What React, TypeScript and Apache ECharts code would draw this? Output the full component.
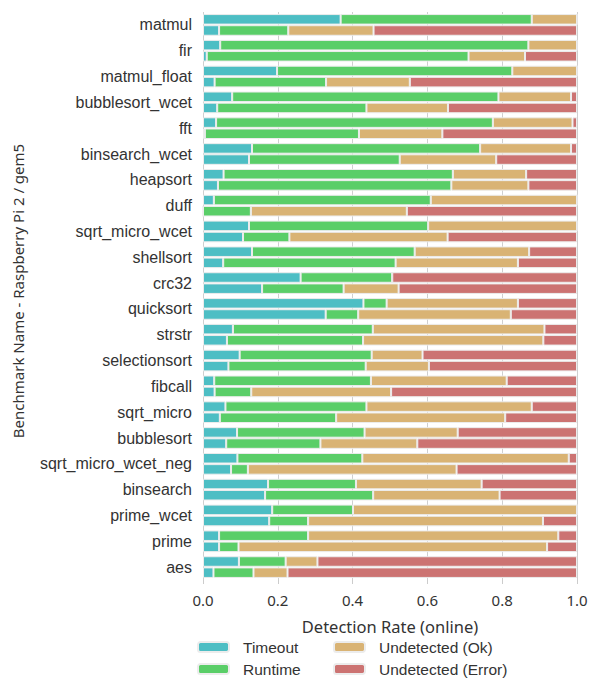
import React, { useEffect, useRef } from "react";
import * as echarts from "echarts";

const benchmarks = [
  "matmul", "fir", "matmul_float", "bubblesort_wcet", "fft", "binsearch_wcet",
  "heapsort", "duff", "sqrt_micro_wcet", "shellsort", "crc32", "quicksort",
  "strstr", "selectionsort", "fibcall", "sqrt_micro", "bubblesort",
  "sqrt_micro_wcet_neg", "binsearch", "prime_wcet", "prime", "aes",
];

const seriesNames = ["Timeout", "Runtime", "Undetected (Ok)", "Undetected (Error)"];
const xTicks = [0, 0.2, 0.4, 0.6, 0.8, 1.0];

// upper bar of each benchmark
const topTimeout = [0.368, 0.046, 0.198, 0.078, 0.035, 0.131, 0.055, 0.029, 0.123, 0.131, 0.261, 0.429, 0.080, 0.098, 0.030, 0.060, 0.091, 0.092, 0.174, 0.185, 0.043, 0.096];
const topRuntime = [0.511, 0.824, 0.629, 0.712, 0.740, 0.610, 0.613, 0.580, 0.479, 0.435, 0.245, 0.062, 0.374, 0.353, 0.419, 0.377, 0.341, 0.334, 0.235, 0.216, 0.238, 0.125];
const topOk = [0.121, 0.130, 0.173, 0.194, 0.213, 0.243, 0.196, 0.391, 0.398, 0.306, 0.0, 0.351, 0.459, 0.136, 0.363, 0.442, 0.249, 0.552, 0.336, 0.599, 0.669, 0.085];
const topError = [0.0, 0.0, 0.0, 0.016, 0.012, 0.016, 0.136, 0.0, 0.0, 0.128, 0.494, 0.158, 0.087, 0.413, 0.188, 0.121, 0.319, 0.022, 0.255, 0.0, 0.050, 0.694];

// lower bar of each benchmark
const bottomTimeout = [0.043, 0.010, 0.031, 0.038, 0.005, 0.123, 0.040, 0.0, 0.107, 0.054, 0.158, 0.328, 0.064, 0.068, 0.031, 0.045, 0.062, 0.075, 0.166, 0.177, 0.043, 0.028];
const bottomRuntime = [0.185, 0.700, 0.298, 0.399, 0.412, 0.403, 0.624, 0.128, 0.124, 0.461, 0.218, 0.087, 0.364, 0.367, 0.098, 0.311, 0.252, 0.045, 0.289, 0.104, 0.052, 0.107];
const bottomOk = [0.228, 0.151, 0.224, 0.218, 0.223, 0.258, 0.206, 0.417, 0.423, 0.327, 0.147, 0.408, 0.482, 0.169, 0.374, 0.452, 0.259, 0.558, 0.338, 0.628, 0.825, 0.091];
const bottomError = [0.544, 0.139, 0.447, 0.345, 0.360, 0.216, 0.130, 0.455, 0.346, 0.158, 0.477, 0.177, 0.090, 0.396, 0.497, 0.192, 0.427, 0.322, 0.207, 0.091, 0.080, 0.774];

const colors = ["#4DBEC4", "#5ACE68", "#D9B374", "#CC7372"];

export default function App() {
  const ref = useRef<HTMLDivElement>(null);
  useEffect(() => {
    if (!ref.current) return;
    const chart = echarts.init(ref.current, null, { renderer: "svg" });
    const topData = [topTimeout, topRuntime, topOk, topError];
    const bottomData = [bottomTimeout, bottomRuntime, bottomOk, bottomError];
    const mk = (stack: string, data: number[][]) =>
      seriesNames.map((name, i) => ({
        type: "bar",
        name,
        stack,
        data: data[i],
        barCategoryGap: "16%",
        barGap: "6%",
        itemStyle: { color: colors[i], borderColor: "#ececec", borderWidth: 1 },
      }));
    const legendText = {
      fontFamily: "Liberation Sans",
      fontSize: 15.5,
      color: "#333",
      padding: [0, 0, 0, 9],
    };
    chart.setOption({
      animation: false,
      color: colors,
      grid: { left: 195, right: 23, top: 4, bottom: 103, outerBoundsMode: "none", containLabel: false },
      legend: [
        {
          data: ["Timeout", "Runtime"],
          orient: "vertical",
          left: 189,
          top: 631,
          height: 60,
          padding: 0,
          itemWidth: 31,
          itemHeight: 10,
          itemGap: 6,
          textStyle: legendText,
        },
        {
          data: ["Undetected (Ok)", "Undetected (Error)"],
          orient: "vertical",
          left: 325,
          top: 631,
          height: 60,
          padding: 0,
          itemWidth: 31,
          itemHeight: 10,
          itemGap: 6,
          textStyle: legendText,
        },
      ],
      xAxis: {
        type: "value",
        min: 0,
        max: 1,
        interval: 0.2,
        name: "Detection Rate (online)",
        nameLocation: "middle",
        nameGap: 38,
        nameTextStyle: { fontFamily: "Noto Sans", fontSize: 16.5, color: "#333" },
        axisLine: { show: false },
        axisTick: { show: true, length: 4, lineStyle: { color: "#ccc" } },
        axisLabel: {
          fontFamily: "Noto Sans",
          fontSize: 15,
          color: "#333",
          margin: 12,
          formatter: (v: number) => (xTicks.some((t) => Math.abs(t - v) < 1e-9) ? v.toFixed(1) : ""),
        },
        splitLine: { show: true, lineStyle: { color: "#cfcfcf", width: 1 } },
      },
      yAxis: {
        type: "category",
        data: benchmarks,
        inverse: true,
        name: "Benchmark Name - Raspberry Pi 2 / gem5",
        nameLocation: "middle",
        nameRotate: 90,
        nameGap: 178,
        nameTextStyle: { fontFamily: "Noto Sans", fontSize: 15, color: "#333", padding: [0, 0, 0, 10] },
        axisLine: { show: false },
        axisTick: { show: false },
        axisLabel: { fontFamily: "Liberation Sans", fontSize: 16, color: "#333", margin: 11 },
        splitLine: { show: false },
      },
      series: [...mk("top", topData), ...mk("bottom", bottomData)],
    });
    return () => chart.dispose();
  }, []);
  return <div ref={ref} style={{ width: 592, height: 675 }} />;
}
